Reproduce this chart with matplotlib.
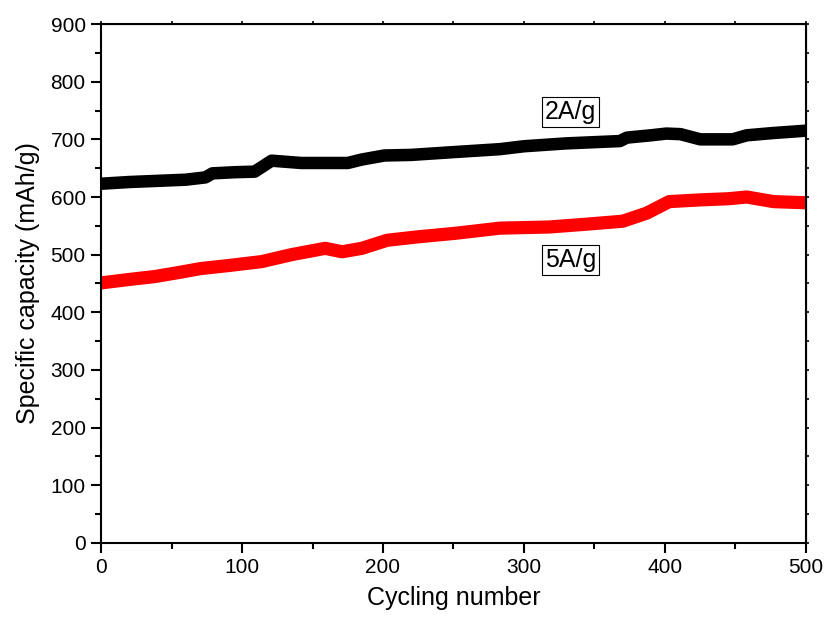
import matplotlib
matplotlib.use("Agg")
import matplotlib.pyplot as plt
from matplotlib.ticker import MultipleLocator

plt.rcParams['font.family'] = ['Liberation Sans', 'DejaVu Sans']

# Data
cycles_2a = [0, 20, 40, 60, 74, 79, 95, 109, 121, 142, 175, 185, 201, 220, 251,
             283, 300, 330, 368, 373, 390, 401, 411, 425, 448, 458, 477, 500]
cap_2a = [623, 626, 628, 630, 634, 641, 643, 644, 663, 659, 659, 665, 672, 673, 678,
          683, 688, 693, 697, 703, 707, 710, 709, 700, 700, 707, 711, 715]

cycles_5a = [0, 20, 38, 55, 71, 90, 114, 135, 159, 171, 185, 203, 225, 251,
             283, 318, 345, 370, 387, 403, 425, 445, 458, 477, 500]
cap_5a = [451, 457, 462, 469, 476, 481, 488, 500, 511, 505, 511, 525, 531, 537,
          546, 548, 553, 558, 572, 592, 595, 597, 600, 592, 590]

labels = ["2A/g", "5A/g"]
label_pos = [(333, 747), (333, 491)]

fig = plt.figure(figsize=(8.28, 6.27), dpi=100)
ax = fig.add_axes([0.122, 0.134, 0.8514, 0.8277])

ax.plot(cycles_2a, cap_2a, color='black', lw=9, solid_capstyle='butt', solid_joinstyle='round')
ax.plot(cycles_5a, cap_5a, color='#ff0000', lw=9.5, solid_capstyle='butt', solid_joinstyle='round')

ax.set_xlim(0, 500)
ax.set_ylim(0, 900)
ax.xaxis.set_major_locator(MultipleLocator(100))
ax.xaxis.set_minor_locator(MultipleLocator(50))
ax.yaxis.set_major_locator(MultipleLocator(100))
ax.yaxis.set_minor_locator(MultipleLocator(50))

for s in ax.spines.values():
    s.set_linewidth(1.5)

ax.tick_params(which='major', direction='out', length=7, width=1.5, labelsize=15, pad=4)
ax.tick_params(which='minor', direction='out', length=4, width=1.5)

# short ticks on top and right
secx = ax.secondary_xaxis('top')
secx.xaxis.set_major_locator(MultipleLocator(50))
secx.tick_params(direction='out', length=2.5, width=1.2, labeltop=False)
secy = ax.secondary_yaxis('right')
secy.yaxis.set_major_locator(MultipleLocator(50))
secy.tick_params(direction='out', length=2.5, width=1.2, labelright=False)

ax.set_xlabel("Cycling number", fontsize=18, labelpad=6)
ax.set_ylabel("Specific capacity (mAh/g)", fontsize=18, labelpad=8)

for lab, (x, y) in zip(labels, label_pos):
    ax.text(x, y, lab, fontsize=18, ha='center', va='center',
            bbox=dict(boxstyle='square,pad=0.12', facecolor='white', edgecolor='black', linewidth=0.8))

fig.savefig("out.png", dpi=100)
